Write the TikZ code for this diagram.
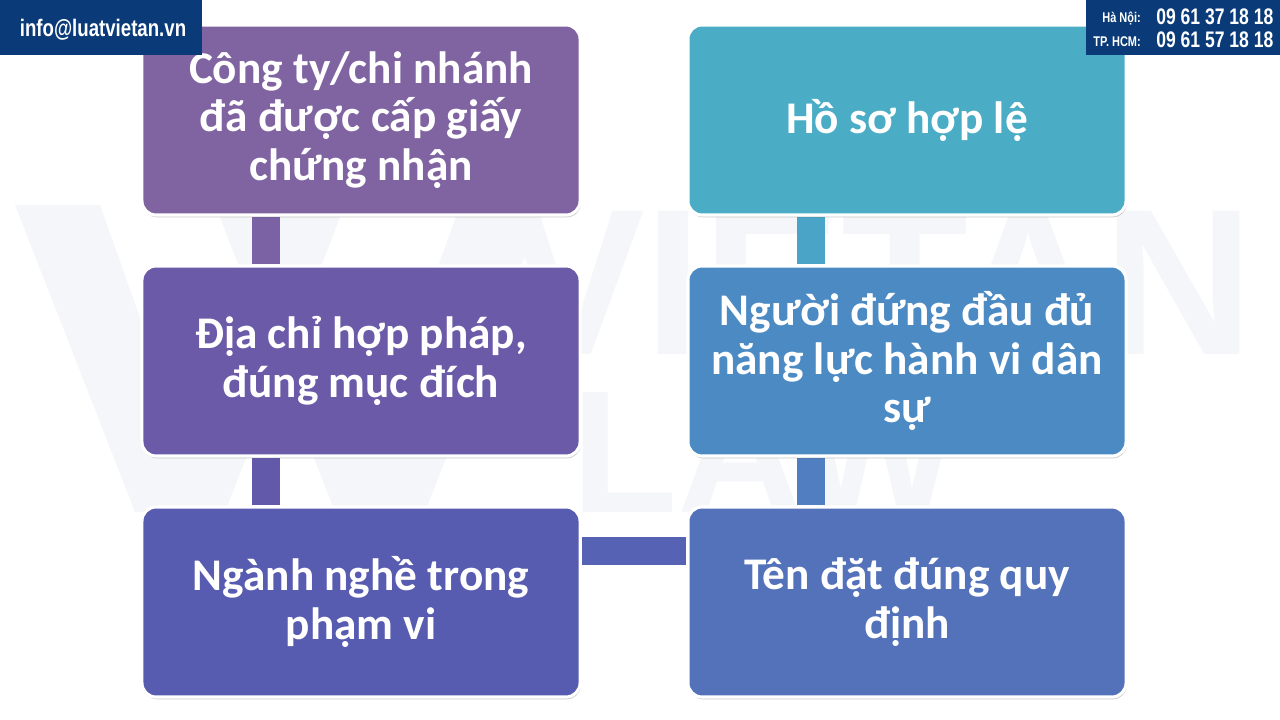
\documentclass[tikz,border=0pt]{standalone}
\usepackage{fontspec}
\setmainfont{Carlito}
\newfontfamily\headfont[FakeStretch=0.78]{Liberation Sans}
\newfontfamily\markfont{Liberation Sans}
\usetikzlibrary{positioning,shadows,calc}

\definecolor{headblue}{RGB}{10,59,120}
\definecolor{markgray}{RGB}{244,246,249}
\definecolor{boxA}{RGB}{128,100,162}
\definecolor{boxB}{RGB}{106,90,168}
\definecolor{boxC}{RGB}{88,92,176}
\definecolor{boxD}{RGB}{84,114,186}
\definecolor{boxE}{RGB}{76,138,196}
\definecolor{boxF}{RGB}{75,172,198}
\definecolor{linkA}{RGB}{122,98,164}
\definecolor{linkB}{RGB}{98,89,170}
\definecolor{linkC}{RGB}{86,98,180}
\definecolor{linkD}{RGB}{80,126,192}
\definecolor{linkE}{RGB}{74,164,200}

\pgfdeclarelayer{mark}
\pgfdeclarelayer{links}
\pgfsetlayers{mark,links,main}

\begin{document}
\begin{tikzpicture}[
    x=0.025cm, y=-0.025cm,
    stepbox/.style={rectangle, rounded corners=10pt, draw=white, line width=2.2pt,
        minimum width=10.95cm, minimum height=4.75cm, text=white, align=center,
        font=\fontsize{32.2}{34.5}\selectfont\bfseries,
        drop shadow={shadow xshift=0.6pt, shadow yshift=-1.6pt, opacity=0.3, fill=black!70}},
    link/.style={line width=20pt},
    headbox/.style={fill=headblue, draw=none, inner sep=0pt, minimum height=1.375cm},
    headtext/.style={text=white, inner sep=0pt}
]

\useasboundingbox (0,0) rectangle (1280,720);

% Watermark
\begin{pgfonlayer}{mark}
\fill[markgray] (15,205) -- (100,205) -- (180,430) -- (260,205) -- (345,205) -- (225,512) -- (135,512) -- cycle;
\fill[markgray] (215,205) -- (300,205) -- (380,430) -- (460,205) -- (545,205) -- (425,512) -- (335,512) -- cycle;
\node (markname) at (880,355) [anchor=base, text=markgray, inner sep=0pt, font=\markfont\bfseries\fontsize{148}{150}\selectfont] {VIETAN};
\node (marklaw) at (765,512) [anchor=base, text=markgray, inner sep=0pt, font=\markfont\bfseries\fontsize{124}{126}\selectfont] {LAW};
\end{pgfonlayer}

% Boxes
\node (cert) at (361,120) [stepbox, fill=boxA] {Công ty/chi nhánh\\đã được cấp giấy\\chứng nhận};
\node (addr) at (361,361) [stepbox, fill=boxB] {Địa chỉ hợp pháp,\\đúng mục đích};
\node (trade) at (361,602) [stepbox, fill=boxC] {Ngành nghề trong\\phạm vi};
\node (naming) at (907,602) [stepbox, fill=boxD] {Tên đặt đúng quy\\định};
\node (leader) at (907,361) [stepbox, fill=boxE] {Người đứng đầu đủ\\năng lực hành vi dân\\sự};
\node (dossier) at (907,120) [stepbox, fill=boxF] {Hồ sơ hợp lệ};

% Links
\begin{pgfonlayer}{links}
\draw[link, linkA] ([xshift=-2.375cm]cert.south) -- ([xshift=-2.375cm]addr.north);
\draw[link, linkB] ([xshift=-2.375cm]addr.south) -- ([xshift=-2.375cm]trade.north);
\draw[link, linkC] ([yshift=1.275cm]trade.east) -- ([yshift=1.275cm]naming.west);
\draw[link, linkD] ([xshift=-2.4cm]naming.north) -- ([xshift=-2.4cm]leader.south);
\draw[link, linkE] ([xshift=-2.4cm]leader.north) -- ([xshift=-2.4cm]dossier.south);
\end{pgfonlayer}

% Header
\node (mail) at (101,27.5) [headbox, minimum width=5.05cm] {};
\node (mailtext) at (103,36.5) [headtext, anchor=base, font=\headfont\bfseries\fontsize{17}{19}\selectfont] {info@luatvietan.vn};
\node (hotline) at (1183,27.5) [headbox, minimum width=4.85cm] {};
\node (hanoi) at (1141,23) [headtext, anchor=base east, font=\headfont\bfseries\fontsize{10}{12}\selectfont] {Hà Nội:};
\node (hcm) at (1141,47) [headtext, anchor=base east, font=\headfont\bfseries\fontsize{10}{12}\selectfont] {TP. HCM:};
\node (hanoinum) at (1156,25) [headtext, anchor=base west, font=\headfont\bfseries\fontsize{16}{18}\selectfont] {09 61 37 18 18};
\node (hcmnum) at (1156,47.5) [headtext, anchor=base west, font=\headfont\bfseries\fontsize{16}{18}\selectfont] {09 61 57 18 18};

\end{tikzpicture}
\end{document}
